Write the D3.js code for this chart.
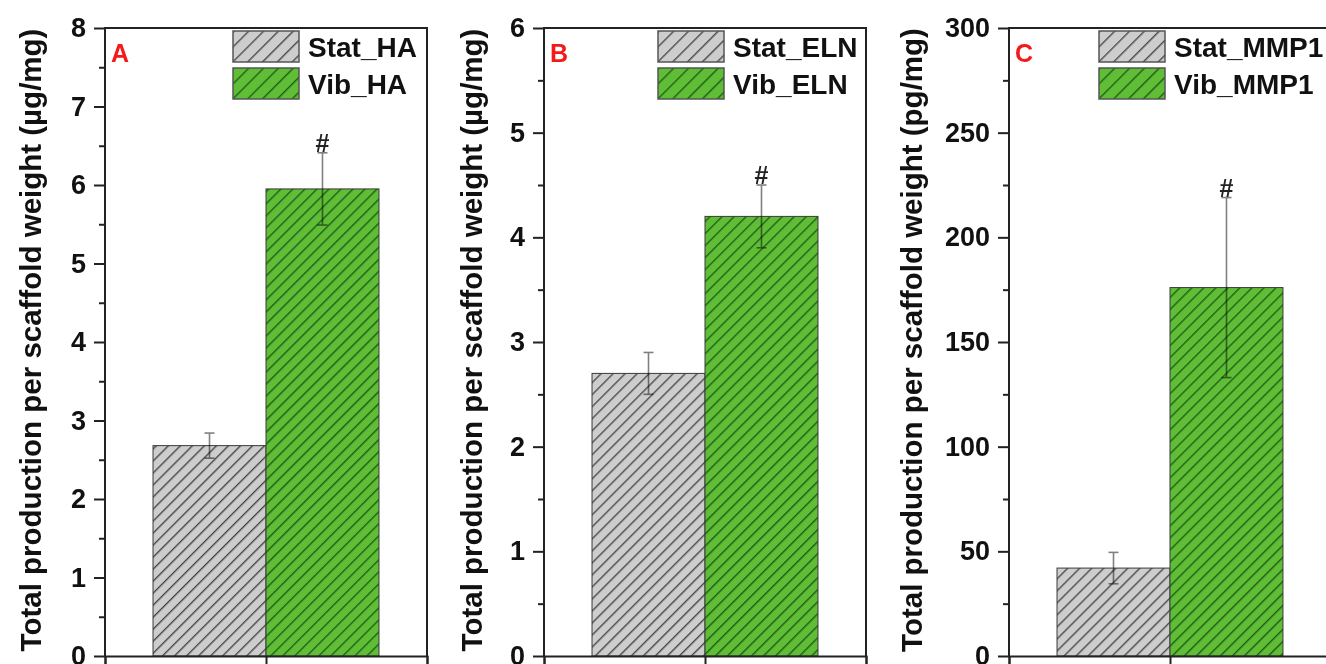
<!DOCTYPE html>
<html>
<head>
<meta charset="utf-8">
<script src="https://cdn.jsdelivr.net/npm/d3@7"></script>
<style>
  html, body { margin: 0; padding: 0; background: #fff; }
  svg { display: block; font-family: "Liberation Sans", Arial, sans-serif; }
  .errbar { mix-blend-mode: multiply; }
</style>
</head>
<body>
<svg id="chart" width="1326" height="664"></svg>
<script>
(function () {
  // chart values
  const panelLetters = ["A", "B", "C"];
  const seriesNames = [
    ["Stat_HA", "Vib_HA"],
    ["Stat_ELN", "Vib_ELN"],
    ["Stat_MMP1", "Vib_MMP1"],
  ];
  const meanValues = [
    [2.68, 5.95],
    [2.7, 4.2],
    [42, 176],
  ];
  const errorValues = [
    [0.16, 0.46],
    [0.2, 0.3],
    [7.5, 43],
  ];
  const sigMarks = [
    ["", "#"],
    ["", "#"],
    ["", "#"],
  ];
  const yMaxValues = [8, 6, 300];
  const yMajorSteps = [1, 1, 50];
  const yUnits = ["µg/mg", "µg/mg", "pg/mg"];

  const svg = d3.select("#chart");
  const defs = svg.append("defs");

  const fills = { stat: "#cdcdcd", vib: "#60bd36" };
  const hatchInk = { stat: "#4a4a4a", vib: "#1f5e16" };

  function hatch(id, kind, gap) {
    const p = defs
      .append("pattern")
      .attr("id", id)
      .attr("patternUnits", "userSpaceOnUse")
      .attr("width", gap)
      .attr("height", gap)
      .attr("patternTransform", "rotate(45)");
    p.append("rect").attr("width", gap).attr("height", gap).attr("fill", fills[kind]);
    p.append("line")
      .attr("x1", 0.7).attr("y1", 0).attr("x2", 0.7).attr("y2", gap)
      .attr("stroke", hatchInk[kind])
      .attr("stroke-width", 1.4);
  }
  hatch("hatch-stat", "stat", 8.5);
  hatch("hatch-vib", "vib", 8.5);
  hatch("leg-stat", "stat", 10.5);
  hatch("leg-vib", "vib", 10.5);
  const kinds = ["stat", "vib"];

  const top = 28, bottom = 656, frameW = 322;
  const frameLefts = [105, 544, 1009];
  const legendLefts = [233, 658, 1099];
  const titleOffsets = [-64, -62, -87];

  panelLetters.forEach((letter, pi) => {
    const x0 = frameLefts[pi];
    const g = svg.append("g");

    const x = d3
      .scaleBand()
      .domain(seriesNames[pi])
      .range([x0, x0 + frameW])
      .paddingInner(0)
      .paddingOuter(0.425);

    const y = d3.scaleLinear().domain([0, yMaxValues[pi]]).range([bottom, top]);
    const step = yMajorSteps[pi];
    const majors = d3.range(0, yMaxValues[pi] + step / 2, step);
    const minors = d3.range(step / 2, yMaxValues[pi], step);

    // bars
    g.selectAll("rect.bar")
      .data(seriesNames[pi])
      .join("rect")
      .attr("class", "bar")
      .attr("x", (d) => x(d))
      .attr("width", x.bandwidth())
      .attr("y", (d, i) => y(meanValues[pi][i]))
      .attr("height", (d, i) => y(0) - y(meanValues[pi][i]))
      .attr("fill", (d, i) => `url(#hatch-${kinds[i]})`)
      .attr("stroke", "#3a3a3a")
      .attr("stroke-width", 1);

    // error bars
    seriesNames[pi].forEach((name, i) => {
      const cx = x(name) + x.bandwidth() / 2;
      const hi = y(meanValues[pi][i] + errorValues[pi][i]);
      const lo = y(meanValues[pi][i] - errorValues[pi][i]);
      const eg = g.append("g").attr("class", "errbar").attr("stroke", "#808080").attr("stroke-width", 1.6);
      eg.append("line").attr("x1", cx).attr("x2", cx).attr("y1", hi).attr("y2", lo);
      eg.append("line").attr("x1", cx - 5).attr("x2", cx + 5).attr("y1", hi).attr("y2", hi);
      eg.append("line").attr("x1", cx - 5).attr("x2", cx + 5).attr("y1", lo).attr("y2", lo);
      if (sigMarks[pi][i]) {
        g.append("text")
          .attr("x", cx)
          .attr("y", hi - 1)
          .attr("text-anchor", "middle")
          .attr("font-size", 25)
          .attr("font-weight", "bold")
          .attr("fill", "#222")
          .text(sigMarks[pi][i]);
      }
    });

    // frame
    const frame = g.append("g").attr("stroke", "#222").attr("stroke-width", 2).attr("fill", "none");
    frame.append("path").attr("d", `M${x0},${bottom}V${top}H${x0 + frameW}V${bottom}`);

    // y axis
    const yAxis = g
      .append("g")
      .attr("transform", `translate(${x0},0)`)
      .call(d3.axisLeft(y).tickValues(majors).tickSize(11).tickPadding(8).tickFormat(d3.format("d")));
    yAxis.select(".domain").remove();
    yAxis.selectAll(".tick line").attr("stroke", "#222").attr("stroke-width", 2);
    yAxis.selectAll(".tick text")
      .attr("font-size", 27)
      .attr("font-weight", "bold")
      .attr("fill", "#111")
      .attr("font-family", "Liberation Sans, Arial, sans-serif");

    const yMinor = g
      .append("g")
      .attr("transform", `translate(${x0},0)`)
      .call(d3.axisLeft(y).tickValues(minors).tickSize(6).tickFormat(""));
    yMinor.select(".domain").remove();
    yMinor.selectAll(".tick line").attr("stroke", "#222").attr("stroke-width", 2);

    // x axis
    const xAxis = g
      .append("g")
      .attr("transform", `translate(0,${bottom})`)
      .call(
        d3.axisBottom(d3.scaleLinear().domain([0, 1]).range([x0, x0 + frameW]))
          .tickValues([0, 0.5, 1])
          .tickSize(9)
          .tickFormat("")
      );
    xAxis.select(".domain").attr("stroke", "#222").attr("stroke-width", 2);
    xAxis.selectAll(".tick line").attr("stroke", "#222").attr("stroke-width", 2);

    // y title
    g.append("text")
      .attr("transform", `translate(${x0 + titleOffsets[pi]},${(top + bottom) / 2 - 2}) rotate(-90)`)
      .attr("text-anchor", "middle")
      .attr("font-size", 29.5)
      .attr("font-weight", "bold")
      .attr("fill", "#111")
      .text(`Total production per scaffold weight (${yUnits[pi]})`);

    // panel letter
    g.append("text")
      .attr("x", x0 + 6)
      .attr("y", 62)
      .attr("font-size", 25)
      .attr("font-weight", "bold")
      .attr("fill", "#f41a1a")
      .text(letter);

    // legend
    const lx = legendLefts[pi];
    const leg = g
      .append("g")
      .selectAll("g")
      .data(seriesNames[pi])
      .join("g")
      .attr("transform", (d, i) => `translate(${lx},${31 + i * 37})`);
    leg.append("rect")
      .attr("width", 66)
      .attr("height", 31)
      .attr("fill", (d, i) => `url(#leg-${kinds[i]})`)
      .attr("stroke", "#555")
      .attr("stroke-width", 1.5);
    leg.append("text")
      .attr("x", 75)
      .attr("y", 26)
      .attr("font-size", 28)
      .attr("font-weight", "bold")
      .attr("fill", "#111")
      .text((d) => d);
  });
})();
</script>
</body>
</html>
